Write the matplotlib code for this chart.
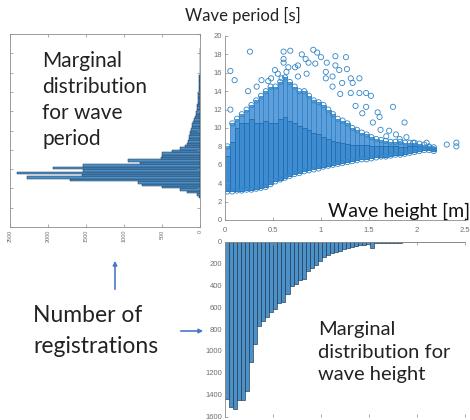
import numpy as np
import matplotlib.pyplot as plt
from matplotlib.patches import FancyArrowPatch

# wave period histogram (left), 0.25 s bins from 3 s upward
period_start = 3.0
period_bin = 0.25
period_counts = [13, 44, 175, 263, 504, 768, 811, 1711, 2281, 1557, 2412, 1540,
                 1938, 1535, 790, 943, 513, 504, 500, 373, 263, 197, 175, 154,
                 150, 140, 135, 132, 120, 110, 100, 92, 80, 66, 58, 50, 44, 40,
                 36, 32, 28, 25, 22, 20, 18, 15, 13, 11, 10, 8, 7, 6, 5, 4, 3,
                 3, 2, 2, 2, 1, 2, 1]

# wave height histogram (bottom), bins from 0 m
height_start = 0.0
height_bin = 0.042
height_counts = [1440, 1515, 1535, 1447, 1453, 1370, 1100, 940, 775, 730, 685,
                 640, 620, 565, 550, 475, 410, 390, 350, 337, 266, 240, 210, 175,
                 140, 120, 104, 90, 83, 70, 60, 50, 42, 33, 27, 21, 58, 15, 14,
                 12, 10, 9, 8, 10, 6, 5, 6, 4, 3, 3, 2, 2, 1, 1, 0, 1, 0, 1, 0, 1]

# dense part of the point cloud: one column per wave height value
hs_cols = [0.025, 0.075, 0.125, 0.175, 0.225, 0.275, 0.325, 0.375, 0.425, 0.475,
           0.525, 0.575, 0.625, 0.675, 0.725, 0.775, 0.825, 0.875, 0.925, 0.975,
           1.025, 1.075, 1.125, 1.175, 1.225, 1.275, 1.325, 1.375, 1.425, 1.475,
           1.525, 1.575, 1.625, 1.675, 1.725, 1.775, 1.825, 1.875, 1.925, 1.975,
           2.025, 2.075, 2.125, 2.175]
tp_low = [3.1, 3.1, 3.2, 3.2, 3.3, 3.3, 3.4, 3.5, 3.6, 3.9, 4.2, 4.4, 4.6, 4.8,
          5.0, 5.1, 5.3, 5.4, 5.5, 5.6, 5.8, 5.9, 6.0, 6.1, 6.2, 6.3, 6.4, 6.5,
          6.6, 6.6, 6.7, 6.8, 6.9, 6.9, 7.0, 7.1, 7.1, 7.2, 7.3, 7.4, 7.5, 7.6,
          7.6, 7.5]
tp_core = [7.0, 8.5, 10.0, 10.5, 10.5, 11.0, 10.5, 10.5, 10.8, 10.5, 10.5, 11.0,
           11.2, 10.8, 10.5, 10.2, 10.0, 9.8, 9.5, 9.3, 9.0, 8.8, 8.6, 8.5, 8.4,
           8.3, 8.2, 8.2, 8.1, 8.1, 8.0, 8.0, 8.0, 8.0, 8.0, 8.0, 7.9, 7.9, 8.0,
           8.0, 8.0, 7.9, 7.8, 7.7]
tp_halo = [8.0, 10.5, 11.0, 11.5, 12.0, 12.5, 13.0, 13.5, 14.0, 14.5, 14.5, 15.0,
           15.5, 15.0, 14.5, 14.0, 14.0, 13.5, 13.0, 12.8, 12.5, 12.0, 11.5, 11.0,
           10.8, 10.5, 10.0, 9.8, 9.5, 9.3, 9.0, 8.8, 8.7, 8.6, 8.5, 8.5, 8.5, 8.4,
           8.4, 8.4, 8.3, 8.2, 8.0, 7.9]

# isolated points outside the cloud
out_hs = [0.056, 0.10, 0.056, 0.26, 0.61, 0.68, 0.61, 0.61, 0.80, 0.84, 0.92, 0.96,
          1.00, 0.94, 1.06, 1.26, 1.27, 1.15, 1.19, 1.05, 0.85, 0.76, 0.73, 0.66,
          0.64, 0.59, 0.55, 0.48, 0.45, 0.38, 1.05, 1.12, 1.31, 1.40, 1.33, 1.47,
          1.52, 1.40, 1.31, 1.20, 1.36, 1.47, 1.43, 1.59, 1.75, 1.61, 1.54, 1.62,
          1.87, 1.68, 1.82, 1.96, 2.10, 2.17, 2.31, 2.41, 2.41, 2.13, 2.03, 0.52,
          0.76, 0.24, 0.33, 1.15, 0.87, 1.12, 1.22, 1.71, 1.78, 1.89]
out_tp = [16.2, 15.2, 12.0, 18.3, 18.3, 18.4, 17.5, 17.1, 18.0, 17.5, 18.5, 18.2,
          17.7, 17.0, 17.1, 17.7, 16.4, 16.8, 16.3, 16.1, 15.9, 16.8, 16.6, 16.6,
          16.1, 15.4, 15.9, 15.4, 15.1, 15.2, 15.4, 15.6, 15.4, 15.4, 14.9, 13.8,
          13.5, 13.8, 13.8, 13.7, 12.4, 12.3, 11.6, 11.7, 12.3, 11.2, 10.6, 9.8,
          10.6, 9.1, 8.8, 8.4, 8.4, 7.7, 8.2, 8.4, 8.0, 7.9, 7.7, 16.3, 15.6, 14.0,
          14.5, 17.8, 17.1, 14.5, 14.9, 9.7, 9.3, 9.0]

plt.rcParams['font.family'] = ['Lato', 'DejaVu Sans']

W, H = 470, 420
fig = plt.figure(figsize=(W / 100, H / 100), dpi=100)


def rect(x0, y0, x1, y1):
    # pixel box measured from top-left -> figure fraction rect
    return [x0 / W, 1 - y1 / H, (x1 - x0) / W, (y1 - y0) / H]


def fx(x):
    return x / W


def fy(y):
    return 1 - y / H


spine_col = '#8c8c8c'
tick_col = '#6e6e6e'
bar_face = '#4c90c8'
bar_edge = '#1c3550'
dot_col = '#2f85c8'


def style(ax, sides):
    for s in ['left', 'right', 'top', 'bottom']:
        ax.spines[s].set_visible(s in sides)
        ax.spines[s].set_color(spine_col)
        ax.spines[s].set_linewidth(0.6)
    ax.tick_params(direction='in', length=2, width=0.5, color=spine_col,
                   labelcolor=tick_col, labelsize=5.5, pad=2,
                   labelfontfamily='Liberation Sans')


# left: period marginal
ax_p = fig.add_axes(rect(10, 34, 200, 227))
p_centers = period_start + period_bin * (np.arange(len(period_counts)) + 0.5)
ax_p.barh(p_centers, period_counts, height=period_bin, color=bar_face,
          edgecolor=bar_edge, linewidth=0.35)
ax_p.set_xlim(2500, 0)
ax_p.set_ylim(0, 20)
ax_p.set_xticks([2500, 2000, 1500, 1000, 500, 0])
ax_p.set_yticks(np.arange(0, 21, 2))
ax_p.set_yticklabels([])
style(ax_p, ['left', 'right', 'top', 'bottom'])
ax_p.tick_params(axis='x', labelrotation=90, labelsize=4, pad=2)
ax_p.tick_params(right=True, top=True)

# scatter of wave period vs wave height
ax_s = fig.add_axes(rect(225, 36, 465, 220))
ax_s.bar(hs_cols, np.array(tp_halo) - np.array(tp_core), bottom=tp_core,
         width=0.05, color='#5c9fda', edgecolor='#2f7fc6', linewidth=0.55)
ax_s.bar(hs_cols, np.array(tp_core) - np.array(tp_low), bottom=tp_low,
         width=0.05, color='#3f8dd0', edgecolor='#1f6db3', linewidth=0.6)
# rings along the fringes of the cloud
ax_s.scatter(hs_cols, tp_halo, s=14, facecolors='none', edgecolors=dot_col,
             linewidths=0.6)
ax_s.scatter(hs_cols, tp_low, s=14, facecolors='none', edgecolors=dot_col,
             linewidths=0.6)
ax_s.scatter(out_hs, out_tp, s=14, facecolors='none', edgecolors=dot_col,
             linewidths=0.6)
ax_s.set_xlim(0, 2.5)
ax_s.set_ylim(0, 20)
ax_s.set_xticks([0, 0.5, 1, 1.5, 2, 2.5])
ax_s.set_xticklabels(['0', '0.5', '1', '1.5', '2', '2.5'])
ax_s.set_yticks(np.arange(0, 21, 2))
style(ax_s, ['left', 'bottom'])
ax_s.tick_params(axis='x', pad=5)

# bottom: height marginal, hanging down (its lower edge sits at the picture edge)
ax_h = fig.add_axes(rect(225, 241.7, 465, 416.5))
h_centers = height_start + height_bin * (np.arange(len(height_counts)) + 0.5)
ax_h.bar(h_centers, height_counts, width=height_bin, color=bar_face,
         edgecolor=bar_edge, linewidth=0.45)
ax_h.set_xlim(0, 2.5)
ax_h.set_ylim(1600, 0)
ax_h.set_yticks(np.arange(0, 1601, 200))
ax_h.set_xticks([0, 0.5, 1, 1.5, 2, 2.5])
ax_h.set_xticklabels([])
style(ax_h, ['left', 'top'])
ax_h.tick_params(top=True, bottom=True)

# annotations
fig.text(fx(243), fy(15), 'Wave period [s]', fontsize=12, ha='center',
         va='center', color='#222222')
fig.text(fx(328), fy(211), 'Wave height [m]', fontsize=14, ha='left',
         va='center', color='#111111')
fig.text(fx(42), fy(100), 'Marginal\ndistribution\nfor wave\nperiod',
         fontsize=15, ha='left', va='center', linespacing=1.36,
         color='#222222')
fig.text(fx(318), fy(352), 'Marginal\ndistribution for\nwave height',
         fontsize=14.5, ha='left', va='center', linespacing=1.42,
         color='#222222')
fig.text(fx(33), fy(331), 'Number of\nregistrations', fontsize=16.5,
         ha='left', va='center', linespacing=1.56, color='#222222')

arrow_col = '#4a78c8'
fig.add_artist(FancyArrowPatch((fx(115), fy(292)), (fx(115), fy(258)),
                               transform=fig.transFigure, arrowstyle='-|>',
                               mutation_scale=6, color=arrow_col, lw=1.2))
fig.add_artist(FancyArrowPatch((fx(178), fy(331)), (fx(206), fy(331)),
                               transform=fig.transFigure, arrowstyle='-|>',
                               mutation_scale=6, color=arrow_col, lw=1.2))

fig.savefig('out.png', dpi=100)
